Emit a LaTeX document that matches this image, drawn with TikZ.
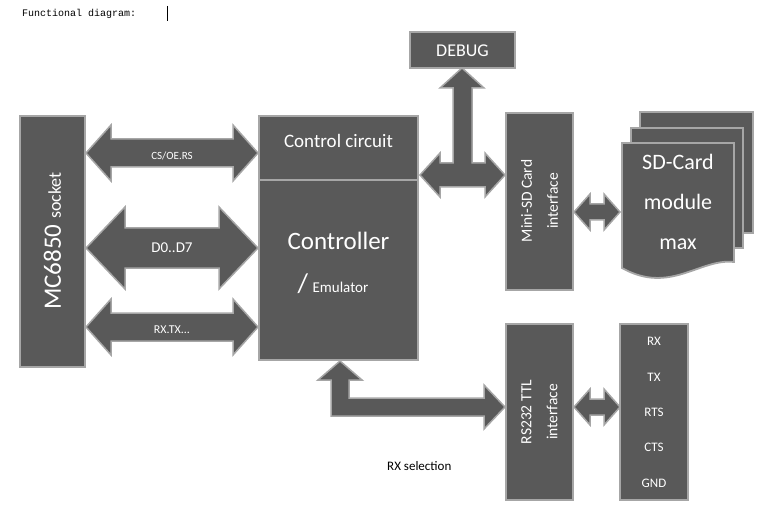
\documentclass[tikz,border=0pt]{standalone}
\usepackage{fontspec}
\setmainfont{Carlito}
\newfontfamily\monof{Liberation Mono}
\definecolor{boxfill}{HTML}{595959}
\definecolor{boxline}{HTML}{A6A6A6}
\newcommand\dharrow[6]{% x1 x2 yc shafthalf headhalf headlen
  \filldraw[arr] (#1,#3) -- (#1+#6,#3-#5) -- (#1+#6,#3-#4) -- (#2-#6,#3-#4) -- (#2-#6,#3-#5) -- (#2,#3)
  -- (#2-#6,#3+#5) -- (#2-#6,#3+#4) -- (#1+#6,#3+#4) -- (#1+#6,#3+#5) -- cycle;}
\begin{document}
\begin{tikzpicture}[x=1pt,y=-1pt,
  blk/.style={draw=boxline,line width=1.8pt,fill=boxfill,text=white,inner sep=0pt},
  arr/.style={draw=boxline,line width=1.5pt,fill=boxfill},
  lbl/.style={text=white,inner sep=0pt}]
\useasboundingbox (0,0) rectangle (771,513);
\node[anchor=west,inner sep=0pt,font=\monof\fontsize{10}{12}\selectfont] (title) at (22,14) {Functional diagram:};
\draw[line width=0.6pt] (167,6) -- (167,21);
% boxes
\draw[blk] (20,116) rectangle (85,367);
\node[lbl,rotate=90] (mc) at (52.5,241) {\fontsize{25}{28}\selectfont MC6850 \fontsize{18}{20}\selectfont socket};
\draw[blk] (259,116) rectangle (418,360);
\draw[boxline,line width=1.8pt] (259,180) -- (418,180);
\node[lbl,font=\fontsize{19}{22}\selectfont] (cc) at (338.5,141) {Control circuit};
\node[lbl,font=\fontsize{25}{28}\selectfont] (ctl) at (338.5,241) {Controller};
\node[lbl] (emu) at (333,284) {\fontsize{27}{30}\selectfont /\,\fontsize{15}{18}\selectfont Emulator};
\draw[blk] (410,32) rectangle (515,68);
\node[lbl,font=\fontsize{18}{20}\selectfont] (dbg) at (462.5,51) {DEBUG};
\draw[blk] (506,113) rectangle (573,290);
\node[lbl,rotate=90,align=center,font=\fontsize{15.5}{26}\selectfont] (msd) at (539.5,201) {Mini-SD Card\\interface};
\draw[blk] (506,324) rectangle (573,500);
\node[lbl,rotate=90,align=center,font=\fontsize{15.5}{26}\selectfont] (rs) at (539.5,412) {RS232 TTL\\interface};
\draw[blk] (620,324) rectangle (688,500);
\foreach \t/\yy in {RX/341,TX/377,RTS/412,CTS/447,GND/483}
  \node[lbl,font=\fontsize{13}{15}\selectfont] (p\t) at (654,\yy) {\t};
% SD cards
\draw[blk] (640,112) rectangle (753,233);
\draw[blk] (631,128) rectangle (743,248);
\filldraw[blk] (622,143) -- (734,143) -- (734,262) .. controls (700,258) and (670,295) .. (622,268) -- cycle;
\node[lbl,align=center,font=\fontsize{22}{40}\selectfont] (sd) at (678,202) {SD-Card\\module\\max};
% arrows
\dharrow{86}{258}{153}{14}{28}{25}
\node[lbl,font=\fontsize{11}{13}\selectfont] (a1) at (172,156) {CS/OE.RS};
\dharrow{86}{258}{248}{20}{41}{39}
\node[lbl,font=\fontsize{15}{18}\selectfont] (a2) at (172,248) {D0..D7};
\dharrow{86}{258}{327}{14}{28}{25}
\node[lbl,font=\fontsize{12}{14}\selectfont] (a3) at (172,330) {RX.TX...};
% T arrow
\filldraw[arr] (420,175) -- (440,153) -- (440,163) -- (453,163) -- (453,88) -- (440,88) -- (462,68) -- (484,88)
  -- (472,88) -- (472,163) -- (485,163) -- (485,153) -- (505,175) -- (485,197) -- (485,187) -- (440,187) -- (440,197) -- cycle;
\dharrow{574}{620}{212}{8}{18}{16}
\dharrow{574}{620}{407}{8}{18}{16}
% L arrow
\filldraw[arr] (340,361) -- (362,380) -- (349,380) -- (349,398) -- (484,398) -- (484,385) -- (505,407) -- (484,429)
  -- (484,416) -- (331,416) -- (331,380) -- (318,380) -- cycle;
\node[anchor=west,inner sep=0pt,font=\fontsize{13}{15}\selectfont] (rxs) at (387,466) {RX selection};
\end{tikzpicture}
\end{document}
